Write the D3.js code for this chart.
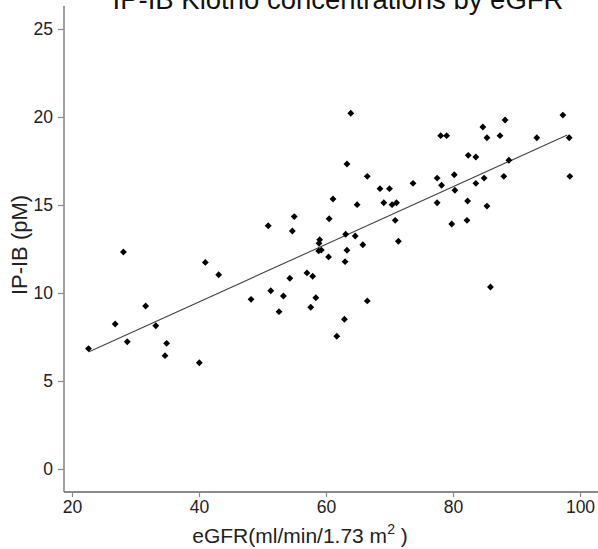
<!DOCTYPE html>
<html><head><meta charset="utf-8">
<script src="https://cdn.jsdelivr.net/npm/d3@7"></script>
<style>body{margin:0;background:#fff}svg{display:block}text{font-family:"Liberation Sans",Arial,sans-serif}</style>
</head><body><svg id="c" width="598" height="549"></svg>
<script>
const egfr = [22.6,28.1,26.8,28.7,31.6,33.2,34.9,34.65,41.0,43.1,40.05,48.2,
63.9,63.3,66.5,68.5,70.0,73.7,77.5,61.1,64.9,69.1,70.4,71.1,77.5,50.9,55.0,54.7,60.5,63.1,64.6,65.8,70.9,71.4,
59.0,58.9,58.85,59.26,63.3,60.4,63.0,57.0,57.9,54.3,51.3,53.3,58.4,52.6,57.6,66.5,62.9,61.7,
78.06,79.0,84.7,88.2,85.35,87.4,93.2,97.3,98.3,82.4,83.6,88.8,80.2,78.2,84.9,83.6,88.0,98.4,80.3,82.3,85.35,79.8,82.2,85.9];
const ipib = [6.84,12.33,8.24,7.23,9.26,8.14,7.14,6.44,11.74,11.04,6.04,9.64,
20.21,17.33,16.63,15.93,15.93,16.23,16.53,15.34,15.02,15.13,15.02,15.13,15.13,13.82,14.34,13.52,14.22,13.34,13.24,12.74,14.13,12.94,
13.03,12.82,12.39,12.44,12.43,12.05,11.78,11.14,10.95,10.84,10.13,9.83,9.73,8.94,9.19,9.55,8.51,7.54,
18.94,18.94,19.43,19.83,18.82,18.94,18.82,20.11,18.82,17.82,17.73,17.54,16.72,16.12,16.53,16.23,16.63,16.63,15.84,15.23,14.94,13.92,14.13,10.34];
const fitX = [22.6, 98.0];
const fitY = [6.65, 18.98];
const xTicks = [20,40,60,80,100];
const yTicks = [0,5,10,15,20,25];
const title = "IP-IB Klotho concentrations by eGFR";

(function(){
const svg = d3.select("#c");
const x = d3.scaleLinear().domain([20,100]).range([72,580]);
const y = d3.scaleLinear().domain([0,25]).range([469,29]);
const axisCol = "#8a8a8a";
const L = 64, B = 492, T = 6, R = 598;

svg.append("line").attr("x1",L).attr("x2",L).attr("y1",T).attr("y2",B)
  .attr("stroke",axisCol).attr("stroke-width",1.6);
svg.append("line").attr("x1",L).attr("x2",R).attr("y1",B).attr("y2",B)
  .attr("stroke",axisCol).attr("stroke-width",2.2);

const gx = svg.append("g").attr("transform",`translate(0,${B})`)
  .call(d3.axisBottom(x).tickValues(xTicks).tickSize(5).tickPadding(4).tickFormat(d3.format("d")));
gx.select(".domain").remove();
gx.selectAll("line").attr("stroke",axisCol).attr("stroke-width",1.2);
gx.selectAll("text").attr("font-size",17.5).attr("fill","#222");

const gy = svg.append("g").attr("transform",`translate(${L},0)`)
  .call(d3.axisLeft(y).tickValues(yTicks).tickSize(6).tickPadding(5).tickFormat(d3.format("d")));
gy.select(".domain").remove();
gy.selectAll("line").attr("stroke",axisCol).attr("stroke-width",1.2);
gy.selectAll("text").attr("font-size",17.5).attr("fill","#222");

svg.append("line").attr("x1",x(fitX[0])).attr("y1",y(fitY[0])).attr("x2",x(fitX[1])).attr("y2",y(fitY[1]))
  .attr("stroke","#444").attr("stroke-width",1.1);

const sym = d3.symbol().type(d3.symbolDiamond2).size(30);
svg.append("g").selectAll("path").data(egfr.map((d,i)=>[d,ipib[i]])).join("path")
  .attr("d",sym).attr("transform",d=>`translate(${x(d[0])},${y(d[1])})`).attr("fill","#000");

svg.append("text").attr("x",338).attr("y",9).attr("text-anchor","middle").attr("font-size",27.5).attr("fill","#111").text(title);
const xt = svg.append("text").attr("x",300).attr("y",543).attr("text-anchor","middle").attr("font-size",21).attr("fill","#222");
xt.append("tspan").text("eGFR(ml/min/1.73 m");
xt.append("tspan").attr("dy",-9).attr("font-size",14).text("2");
xt.append("tspan").attr("dy",9).text(" )");
svg.append("text").attr("transform","translate(27,245) rotate(-90)").attr("text-anchor","middle").attr("font-size",22).attr("fill","#222").text("IP-IB (pM)");
})();
</script></body></html>
